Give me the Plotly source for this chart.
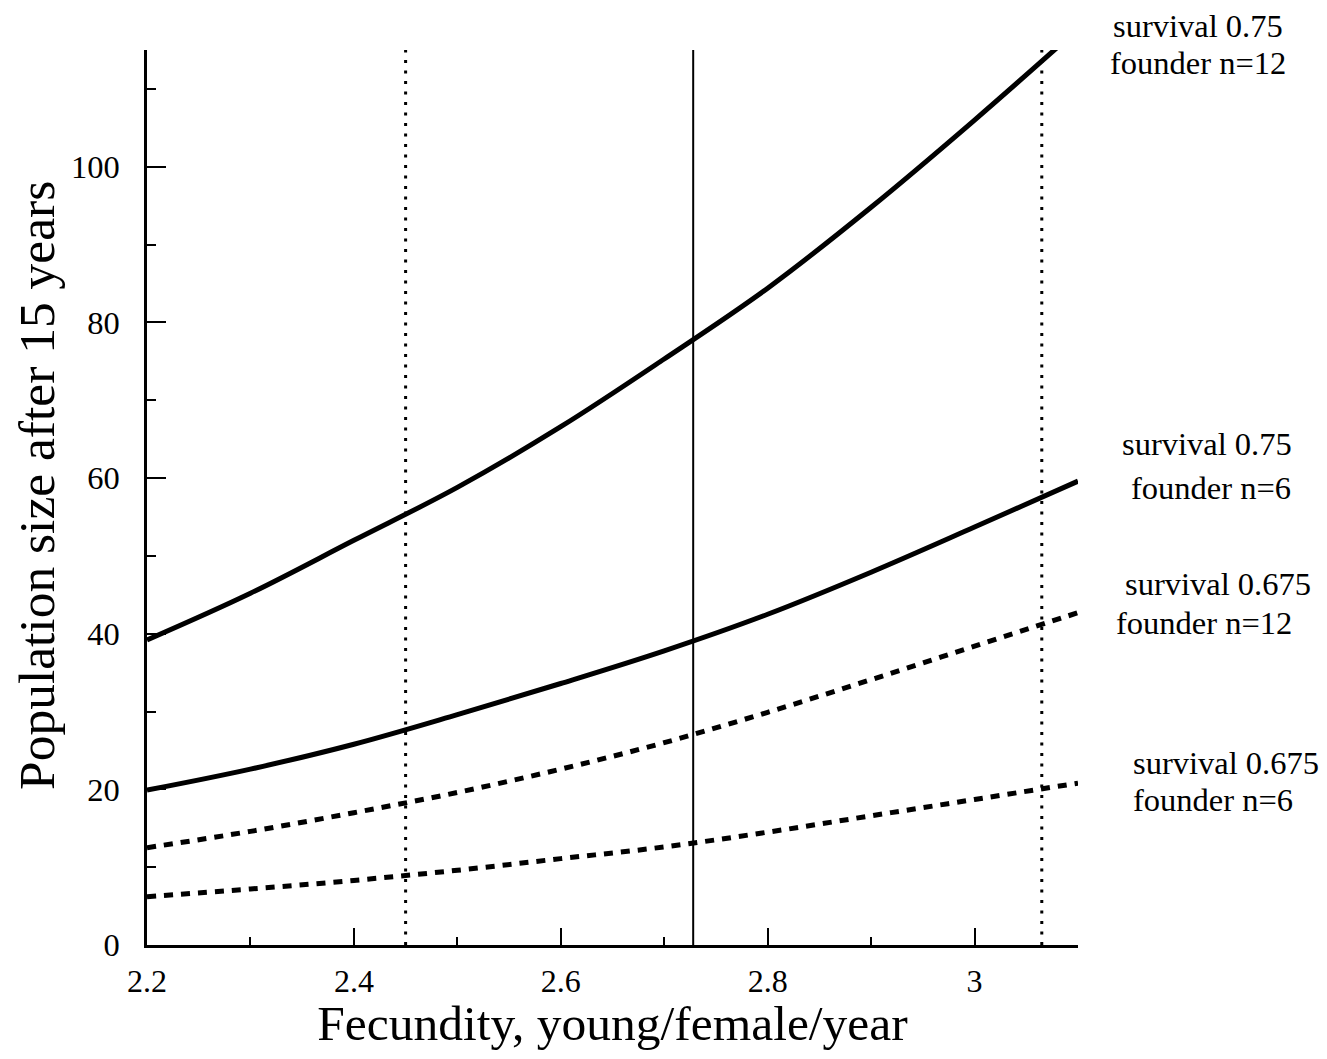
import plotly.graph_objects as go

# ---- data ----
fecundity = [2.2, 2.3, 2.4, 2.5, 2.6, 2.7, 2.8, 2.9, 3.0, 3.1]
surv075_n12 = [39.2, 45.2, 52.0, 58.8, 66.6, 75.3, 84.4, 94.8, 106.0, 117.7]
surv075_n6 = [19.9, 22.6, 25.8, 29.6, 33.6, 37.8, 42.5, 47.9, 53.7, 59.6]
surv0675_n12 = [12.5, 14.6, 17.0, 19.6, 22.6, 26.0, 29.9, 34.1, 38.4, 42.7]
surv0675_n6 = [6.2, 7.2, 8.3, 9.6, 11.1, 12.6, 14.5, 16.6, 18.7, 20.8]

series_names = ["survival 0.75, founder n=12", "survival 0.75, founder n=6",
                "survival 0.675, founder n=12", "survival 0.675, founder n=6"]
series_values = [surv075_n12, surv075_n6, surv0675_n12, surv0675_n6]
series_solid = [True, True, False, False]

dotted_lines_x = [2.45, 3.065]
solid_line_x = [2.728]

x_ticks = [2.2, 2.4, 2.6, 2.8, 3.0]
x_tick_labels = ["2.2", "2.4", "2.6", "2.8", "3"]
y_ticks = [0, 20, 40, 60, 80, 100]

x_title = "Fecundity, young/female/year"
y_title = "Population size after 15 years"

label_texts = ["survival 0.75", "founder n=12", "survival 0.75", "founder n=6",
               "survival 0.675", "founder n=12", "survival 0.675", "founder n=6"]

# label placement (paper coordinates)
label_pos = [(1.1289, 1.0268), (1.1289, 0.9855), (1.1386, 0.5598), (1.1429, 0.5106),
             (1.1504, 0.4034), (1.1353, 0.3598), (1.1590, 0.2034), (1.1450, 0.1620)]

FONT = "Liberation Serif, Times New Roman, serif"

fig = go.Figure()

for name, vals, solid in zip(series_names, series_values, series_solid):
    fig.add_trace(go.Scatter(
        x=fecundity, y=vals, mode="lines", name=name,
        line=dict(color="black", width=5, shape="spline",
                  dash="solid" if solid else "9px,8px"),
        showlegend=False,
    ))

for xv in dotted_lines_x:
    fig.add_shape(type="line", xref="x", yref="y", x0=xv, x1=xv, y0=0, y1=115,
                  line=dict(color="black", width=3, dash="3px,7.5px"))
for xv in solid_line_x:
    fig.add_shape(type="line", xref="x", yref="y", x0=xv, x1=xv, y0=0, y1=115,
                  line=dict(color="black", width=2))

for text, (xa, ya) in zip(label_texts, label_pos):
    fig.add_annotation(x=xa, y=ya, xref="paper", yref="paper", text=text, showarrow=False,
                       xanchor="center", yanchor="middle",
                       font=dict(family=FONT, size=32.5, color="black"))

# y-axis title as a rotated annotation for precise placement
fig.add_annotation(x=-0.118, y=0.513, xref="paper", yref="paper", text=y_title,
                   showarrow=False, textangle=-90, xanchor="center", yanchor="middle",
                   font=dict(family=FONT, size=51.5, color="black"))

fig.update_xaxes(
    range=[2.2, 3.1], tickvals=x_ticks, ticktext=x_tick_labels,
    ticks="inside", ticklen=17, tickwidth=1.5, tickcolor="black",
    minor=dict(dtick=0.1, tick0=2.2, ticks="inside", ticklen=8, tickwidth=1.5, tickcolor="black"),
    showline=True, linewidth=2.5, linecolor="black", showgrid=False, zeroline=False,
    tickfont=dict(family=FONT, size=32, color="black"), ticklabelstandoff=6,
    title=dict(text=x_title, font=dict(family=FONT, size=49.5, color="black"),
               standoff=16),
)
fig.update_yaxes(
    range=[0, 115], tickvals=y_ticks,
    ticks="inside", ticklen=19, tickwidth=1.5, tickcolor="black",
    minor=dict(dtick=10, tick0=0, ticks="inside", ticklen=9, tickwidth=1.5, tickcolor="black"),
    showline=True, linewidth=2.5, linecolor="black", showgrid=False, zeroline=False,
    tickfont=dict(family=FONT, size=32.5, color="black"), ticklabelstandoff=18,
)

fig.update_layout(
    width=1311, height=1043,
    margin=dict(l=139, r=241, t=42, b=106, autoexpand=False),
    plot_bgcolor="white", paper_bgcolor="white",
)

fig.write_html("out.html")
